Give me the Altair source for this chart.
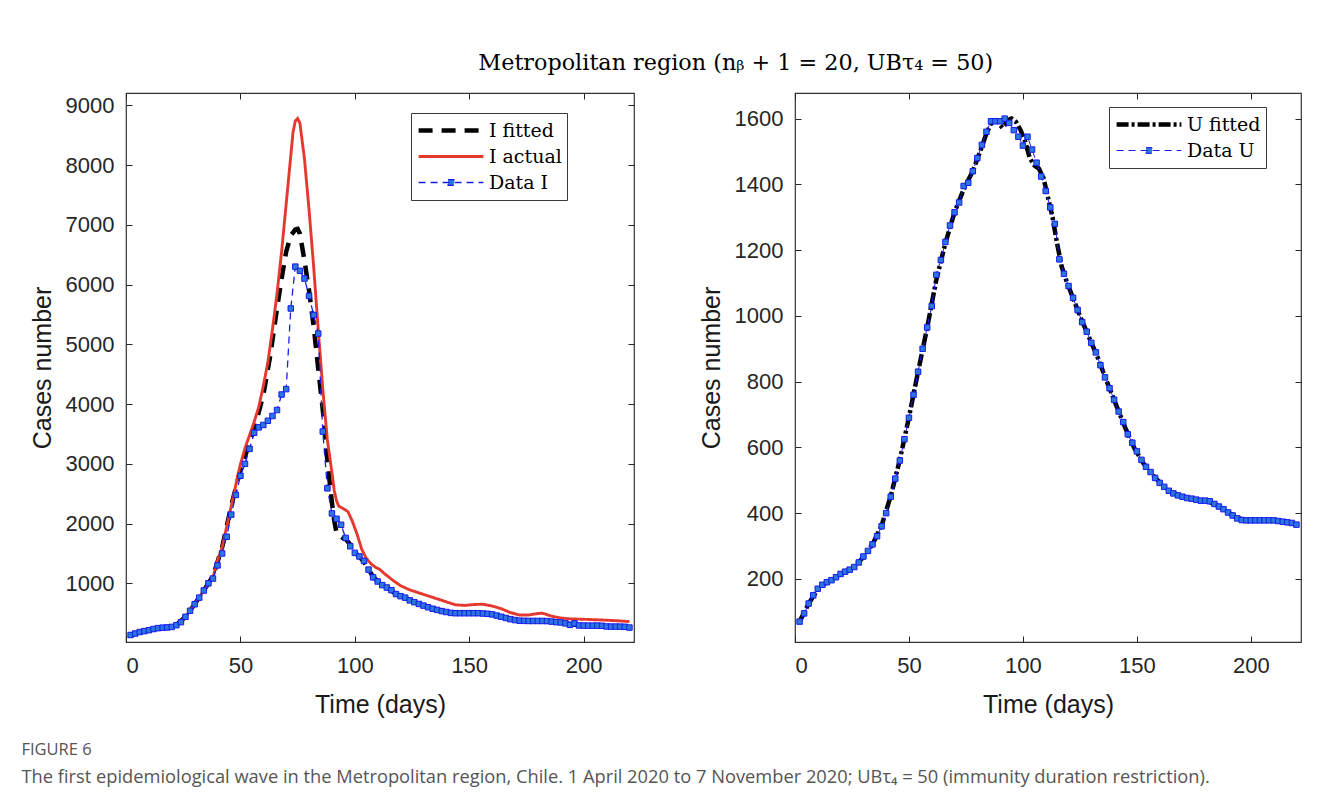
import altair as alt
import pandas as pd

# ---------------- data ----------------
DAYS = list(range(2, 221, 2))

DATA_I = [135, 160, 185, 200, 215, 235, 250, 258, 262, 270,
          300, 350, 440, 540, 650, 760, 880, 1000, 1080, 1300,
          1500, 1780, 2150, 2480, 2800, 3000, 3250, 3520, 3610, 3650,
          3720, 3800, 3900, 4160, 4250, 5600, 6300, 6230, 6100, 5810,
          5490, 5180, 3540, 2590, 2170, 2080, 1980, 1760, 1620, 1510,
          1450, 1375, 1230, 1100, 1030, 970, 930, 885, 820, 785,
          760, 715, 685, 655, 627, 600, 575, 555, 535, 520,
          505, 500, 500, 500, 500, 500, 500, 495, 490, 480,
          460, 440, 420, 400, 385, 375, 372, 370, 370, 370,
          370, 368, 360, 350, 345, 330, 305, 330, 295, 293,
          292, 292, 292, 290, 278, 276, 276, 275, 272, 260]

FIT_I_DAYS = [2, 6, 10, 14, 18, 22, 26, 30, 34, 38, 42, 46, 50, 54, 57, 60, 63, 66, 68, 70,
              72, 74, 75, 76, 78, 80, 82, 84, 86, 88, 90, 91, 92, 93, 94, 95, 96, 98, 100, 102,
              104, 106, 108, 110, 114, 118, 122, 126, 130, 134, 138, 142, 150, 156, 160, 164, 168, 172, 180, 186,
              190, 194, 198, 208, 212, 220]
FIT_I = [135, 185, 215, 250, 262, 300, 440, 650, 880, 1120, 1600, 2300, 2900, 3350, 3720, 4150, 4800, 5600, 6100, 6550,
         6820, 6920, 6930, 6850, 6400, 5900, 5300, 4600, 3900, 3050, 2350, 2050, 1850, 1790, 1780, 1750, 1740, 1650, 1520, 1440,
         1360, 1230, 1110, 1035, 930, 820, 760, 685, 628, 576, 536, 505, 500, 495, 480, 440, 400, 376, 370, 360,
         345, 320, 298, 290, 277, 265]

ACT_I_DAYS = [2, 6, 10, 14, 18, 22, 26, 30, 34, 38, 40, 42, 44, 46, 48, 50, 52, 54, 56, 58,
              60, 62, 64, 66, 68, 70, 72, 73, 74, 75, 76, 77, 78, 80, 82, 84, 86, 88, 90, 91,
              92, 93, 95, 97, 99, 101, 103, 105, 107, 109, 111, 113, 115, 117, 120, 124, 128, 132, 136, 140,
              144, 148, 152, 156, 160, 164, 168, 172, 176, 180, 182, 186, 190, 194, 200, 207, 214, 220]
ACT_I = [135, 185, 215, 250, 262, 300, 440, 650, 880, 1100, 1380, 1600, 1950, 2290, 2650, 2990, 3260, 3480, 3700, 3950,
         4300, 4700, 5250, 5850, 6550, 7350, 8150, 8550, 8740, 8780, 8700, 8400, 8100, 7250, 6300, 5250, 4250, 3400, 2850, 2550,
         2380, 2290, 2250, 2200, 2030, 1820, 1570, 1420, 1330, 1270, 1230, 1160, 1100, 1040, 960, 890, 840, 790, 740, 690,
         640, 630, 645, 650, 620, 575, 510, 470, 470, 495, 500, 450, 420, 405, 398, 388, 375, 360]

DATA_U = [70, 95, 125, 150, 170, 182, 190, 196, 205, 215,
          222, 228, 236, 250, 268, 285, 305, 330, 360, 400,
          450, 505, 560, 625, 690, 760, 830, 900, 965, 1030,
          1125, 1170, 1225, 1275, 1315, 1345, 1395, 1405, 1440, 1480,
          1520, 1560, 1592, 1592, 1592, 1600, 1587, 1565, 1545, 1518,
          1545, 1506, 1466, 1424, 1380, 1330, 1280, 1172, 1128, 1091,
          1055, 1018, 981, 952, 918, 889, 850, 813, 780, 745,
          709, 677, 640, 614, 588, 562, 541, 525, 507, 492,
          480, 468, 460, 454, 450, 446, 444, 441, 438, 438,
          436, 428, 420, 412, 402, 393, 384, 379, 378, 378,
          378, 378, 378, 378, 378, 376, 374, 372, 370, 365]

FIT_U_DAYS = [2, 6, 10, 14, 18, 22, 26, 30, 34, 38, 42, 46, 50, 54, 58, 62, 66, 70, 74, 78,
              82, 84, 86, 88, 89, 90, 91, 92, 93, 95, 97, 99, 101, 103, 105, 107, 109, 111, 113, 115,
              117, 119, 121, 125, 129, 133, 137, 141, 145, 149, 153, 157, 161, 165, 169, 173, 177, 181, 185, 189,
              193, 197, 205, 211, 215, 220]
FIT_U = [70, 125, 168, 190, 205, 222, 237, 266, 305, 362, 452, 562, 692, 830, 965, 1110, 1222, 1315, 1385, 1440,
         1515, 1555, 1585, 1595, 1592, 1580, 1572, 1580, 1595, 1600, 1590, 1565, 1530, 1480, 1458, 1448, 1420, 1360, 1300, 1220,
         1150, 1108, 1072, 1000, 935, 870, 797, 727, 658, 596, 550, 516, 486, 464, 452, 445, 440, 437, 424, 407,
         389, 379, 378, 377, 373, 365]

LEFT_SERIES = ["I fitted", "I actual", "Data I"]
RIGHT_SERIES = ["U fitted", "Data U"]
X_TICKS = [0, 50, 100, 150, 200]
LEFT_Y_TICKS = [1000, 2000, 3000, 4000, 5000, 6000, 7000, 8000, 9000]
RIGHT_Y_TICKS = [200, 400, 600, 800, 1000, 1200, 1400, 1600]

TITLE = "Metropolitan region (nᵦ + 1 = 20, UBτ₄ = 50)"
FIG_LABEL = "FIGURE 6"
CAPTION = ("The first epidemiological wave in the Metropolitan region, Chile. 1 April 2020 to "
           "7 November 2020; UBτ₄ = 50 (immunity duration restriction).")

SANS = "Liberation Sans"
SERIF = "DejaVu Serif"
AX = "#262626"
BLUE_LINE = "#1a1aee"
BLUE_FILL = "#2a78dc"
# legend symbol: a line with a small square in the middle (for the data series)
LINE_SQUARE = "M-1,0L1,0M-0.09,-0.09L0.09,-0.09L0.09,0.09L-0.09,0.09Z"


def frame(days, vals, name):
    return pd.DataFrame({"day": days, "value": vals, "series": name})


def panel(line_df, pts_df, series, colors, dashes, widths, y_domain, y_ticks,
          lx, ly, width, height):
    data_name = series[-1]
    xs = alt.Scale(domain=[0, 222], nice=False, zero=False)
    ys = alt.Scale(domain=y_domain, nice=False, zero=False)
    legend = alt.Legend(
        title=None, orient="none", legendX=lx, legendY=ly,
        fillColor="white", strokeColor="#3a3a3a", padding=5,
        labelFont=SERIF, labelFontSize=19, labelColor="black",
        symbolType=alt.ExprRef(expr=f"datum.value === '{data_name}' ? '{LINE_SQUARE}' : 'stroke'"),
        symbolFillColor=alt.ExprRef(expr=f"datum.value === '{data_name}' ? '{BLUE_FILL}' : 'transparent'"),
        symbolSize=4200, clipHeight=25, rowPadding=1, labelOffset=3)
    x_axis = alt.Axis(values=X_TICKS, title="Time (days)", offset=-6, tickSize=6,
                      labelPadding=13, domain=False, grid=False, labelFont=SANS,
                      labelFontSize=22, labelColor=AX, tickColor=AX, titleFont=SANS,
                      titleFontSize=25, titleFontWeight="normal", titleColor="#1a1a1a",
                      titlePadding=16, format="d")
    y_axis = alt.Axis(values=y_ticks, title="Cases number", offset=-6, tickSize=6,
                      labelPadding=12, domain=False, grid=False, labelFont=SANS,
                      labelFontSize=22, labelColor=AX, tickColor=AX, titleFont=SANS,
                      titleFontSize=25, titleFontWeight="normal", titleColor="#1a1a1a",
                      titlePadding=10, format="d")
    top_axis = alt.Axis(orient="top", values=X_TICKS, labels=False, title=None, offset=-6,
                        tickSize=6, domain=False, grid=False, tickColor=AX)
    right_axis = alt.Axis(orient="right", values=y_ticks, labels=False, title=None, offset=-6,
                          tickSize=6, domain=False, grid=False, tickColor=AX)

    lines = alt.Chart(line_df).mark_line(clip=True).encode(
        x=alt.X("day:Q", scale=xs, axis=x_axis),
        y=alt.Y("value:Q", scale=ys, axis=y_axis),
        color=alt.Color("series:N", scale=alt.Scale(domain=series, range=colors),
                        legend=legend, sort=series),
        strokeDash=alt.StrokeDash("series:N", scale=alt.Scale(domain=series, range=dashes),
                                  legend=legend, sort=series),
        strokeWidth=alt.StrokeWidth("series:N", scale=alt.Scale(domain=series, range=widths),
                                    legend=legend, sort=series),
    )
    pts = alt.Chart(pts_df).mark_square(size=30, fill=BLUE_FILL, stroke=BLUE_LINE,
                                        strokeWidth=1, opacity=1).encode(
        x=alt.X("day:Q", scale=xs, axis=top_axis),
        y=alt.Y("value:Q", scale=ys, axis=right_axis),
    )
    return alt.layer(lines, pts).resolve_axis(x="independent", y="independent").properties(
        width=width, height=height)


left_lines = pd.concat([frame(FIT_I_DAYS, FIT_I, "I fitted"),
                        frame(ACT_I_DAYS, ACT_I, "I actual"),
                        frame(DAYS, DATA_I, "Data I")], ignore_index=True)
left_pts = frame(DAYS, DATA_I, "Data I")
right_lines = pd.concat([frame(FIT_U_DAYS, FIT_U, "U fitted"),
                         frame(DAYS, DATA_U, "Data U")], ignore_index=True)
right_pts = frame(DAYS, DATA_U, "Data U")

left = panel(left_lines, left_pts, LEFT_SERIES, ["#000000", "#e5392f", BLUE_LINE],
             [[14, 9], [1, 0], [7, 5]], [4.5, 1.3, 1.0], [18, 9206], LEFT_Y_TICKS,
             285, 20, 508, 549)
right = panel(right_lines, right_pts, RIGHT_SERIES, ["#000000", BLUE_LINE],
              [[12, 3, 3, 3], [7, 5]], [4.5, 1.0], [8, 1678], RIGHT_Y_TICKS,
              314, 14, 506, 549)

plots = alt.hconcat(left, right, spacing=62).resolve_scale(
    color="independent", strokeDash="independent", strokeWidth="independent"
).properties(
    title=alt.TitleParams(TITLE, font=SERIF, fontSize=22.3, fontWeight="normal",
                          color="black", anchor="middle", offset=18, dx=70))

chart = alt.vconcat(plots).properties(
    title=alt.TitleParams(FIG_LABEL, subtitle=CAPTION, orient="bottom", anchor="start",
                          font="Open Sans", fontSize=16.5, fontWeight=500, color="#555555",
                          subtitleFont="Open Sans", subtitleFontSize=18.3,
                          subtitleColor="#555555", subtitlePadding=11, offset=24, dx=-8),
    padding={"left": 21, "top": 51, "right": 10, "bottom": 5},
    background="white",
).configure_view(stroke="#333333", strokeWidth=1.2)

chart.save("out.html", embed_options={"renderer": "svg", "actions": False})
